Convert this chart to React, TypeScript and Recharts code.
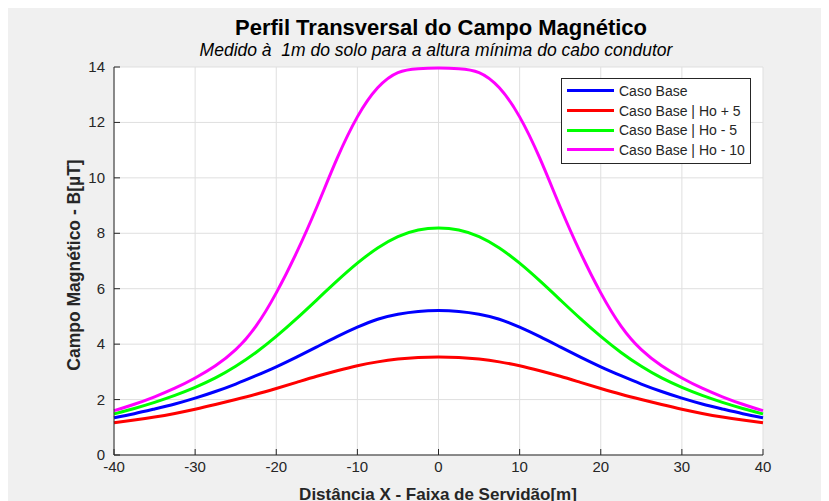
import React from 'react';
import { CartesianGrid, Legend, Line, LineChart, XAxis, YAxis } from 'recharts';

const distances = [
  -40, -37.5, -35, -32.5, -30, -27.5, -25, -22.5, -20, -17.5, -15, -12.5, -10, -7.5, -5, -2.5,
  0, 2.5, 5, 7.5, 10, 12.5, 15, 17.5, 20, 22.5, 25, 27.5, 30, 32.5, 35, 37.5, 40,
];

const casoBase = [
  1.34, 1.49, 1.66, 1.84, 2.05, 2.29, 2.56, 2.86, 3.18, 3.53, 3.9, 4.27, 4.61, 4.9, 5.08, 5.18,
  5.21, 5.18, 5.08, 4.9, 4.61, 4.27, 3.9, 3.53, 3.18, 2.86, 2.56, 2.29, 2.05, 1.84, 1.66, 1.49, 1.34,
];

const hoMais5 = [
  1.16, 1.26, 1.37, 1.5, 1.65, 1.82, 2.0, 2.19, 2.4, 2.62, 2.84, 3.04, 3.22, 3.36, 3.46, 3.52,
  3.54, 3.52, 3.46, 3.36, 3.22, 3.04, 2.84, 2.62, 2.4, 2.19, 2.0, 1.82, 1.65, 1.5, 1.37, 1.26, 1.16,
];

const hoMenos5 = [
  1.48, 1.68, 1.9, 2.15, 2.44, 2.78, 3.2, 3.7, 4.28, 4.92, 5.6, 6.28, 6.92, 7.47, 7.88, 8.12,
  8.19, 8.12, 7.88, 7.47, 6.92, 6.28, 5.6, 4.92, 4.28, 3.7, 3.2, 2.78, 2.44, 2.15, 1.9, 1.68, 1.48,
];

const hoMenos10 = [
  1.6, 1.83, 2.1, 2.41, 2.78, 3.22, 3.8, 4.65, 5.85, 7.3, 8.95, 10.7, 12.2, 13.25, 13.8, 13.94,
  13.96, 13.94, 13.8, 13.25, 12.2, 10.7, 8.95, 7.3, 5.85, 4.65, 3.8, 3.22, 2.78, 2.41, 2.1, 1.83, 1.6,
];

const seriesNames = ['Caso Base', 'Caso Base | Ho + 5', 'Caso Base | Ho - 5', 'Caso Base | Ho - 10'];

const xTicks = [-40, -30, -20, -10, 0, 10, 20, 30, 40];
const yTicks = [0, 2, 4, 6, 8, 10, 12, 14];

const data = distances.map((x, i) => ({
  x,
  base: casoBase[i],
  mais5: hoMais5[i],
  menos5: hoMenos5[i],
  menos10: hoMenos10[i],
}));

const FONT = 'Arial, "Liberation Sans", Helvetica, sans-serif';
const AXIS = '#262626';

// ticks point inwards, MATLAB style
const XTick = ({ x, y, payload }: any) => (
  <g>
    <line x1={x} x2={x} y1={y} y2={y - 6} stroke={AXIS} strokeWidth={1} />
    <text x={x} y={y + 17} textAnchor="middle" fill={AXIS} fontSize={15} fontFamily={FONT}>
      {payload.value}
    </text>
  </g>
);

const YTick = ({ x, y, payload }: any) => (
  <g>
    <line x1={x + 9} x2={x + 15} y1={y} y2={y} stroke={AXIS} strokeWidth={1} />
    <text x={x} y={y + 5} textAnchor="end" fill={AXIS} fontSize={15} fontFamily={FONT}>
      {payload.value}
    </text>
  </g>
);

const LegendBox = ({ payload }: any) => (
  <div
    style={{
      background: '#fff',
      border: `1px solid ${AXIS}`,
      width: 188,
      height: 80,
      padding: '2px 0',
      boxSizing: 'content-box',
      fontFamily: FONT,
      fontSize: 14,
      color: AXIS,
    }}
  >
    {payload.map((p: any) => (
      <div key={p.value} style={{ display: 'flex', alignItems: 'center', height: 19.7 }}>
        <span style={{ display: 'inline-block', marginLeft: 5, width: 47, height: 3, background: p.color }} />
        <span style={{ marginLeft: 5, whiteSpace: 'nowrap' }}>{p.value}</span>
      </div>
    ))}
  </div>
);

export default function App() {
  return (
    <div style={{ position: 'relative', width: 821, height: 493, background: '#f0f0f0' }}>
      <style>{'body{overflow:hidden}'}</style>
      <LineChart width={821} height={493} data={data} margin={{ top: 59, right: 66, bottom: 16, left: 66 }}>
        <CartesianGrid fill="#fff" stroke="#dfdfdf" strokeWidth={1} />
        <XAxis
          dataKey="x"
          type="number"
          domain={[-40, 40]}
          ticks={xTicks}
          height={30}
          tickSize={0}
          tickMargin={0}
          tickLine={false}
          stroke={AXIS}
          tick={<XTick />}
          interval={0}
        />
        <YAxis
          type="number"
          domain={[0, 14]}
          ticks={yTicks}
          width={40}
          tickSize={0}
          tickMargin={9}
          tickLine={false}
          stroke={AXIS}
          tick={<YTick />}
          interval={0}
        />
        <Legend
          layout="horizontal"
          verticalAlign="middle"
          align="center"
          itemSorter={(item: any) => seriesNames.indexOf(item.value)}
          wrapperStyle={{ left: 553, top: 70, width: 190 }}
          content={LegendBox}
        />
        <Line type="natural" dataKey="base" name={seriesNames[0]} stroke="#0000ff" strokeWidth={3} dot={false} isAnimationActive={false} />
        <Line type="natural" dataKey="mais5" name={seriesNames[1]} stroke="#ff0000" strokeWidth={3} dot={false} isAnimationActive={false} />
        <Line type="natural" dataKey="menos5" name={seriesNames[2]} stroke="#00ff00" strokeWidth={3} dot={false} isAnimationActive={false} />
        <Line type="natural" dataKey="menos10" name={seriesNames[3]} stroke="#ff00ff" strokeWidth={3} dot={false} isAnimationActive={false} />
      </LineChart>
      <svg width={821} height={493} style={{ position: 'absolute', left: 0, top: 0, pointerEvents: 'none' }}>
        <text x={433} y={27} textAnchor="middle" fontFamily={FONT} fontWeight="bold" fontSize={22} fill="#000">
          Perfil Transversal do Campo Magnético
        </text>
        <text x={428} y={48} textAnchor="middle" fontFamily={FONT} fontStyle="italic" fontSize={17.5} fill="#000" xmlSpace="preserve">
          Medido à  1m do solo para a altura mínima do cabo condutor
        </text>
        <text transform="translate(72,257) rotate(-90)" textAnchor="middle" fontFamily={FONT} fontWeight="bold" fontSize={17.5} fill={AXIS}>
          Campo Magnético - B[µT]
        </text>
        <text x={430} y={492} textAnchor="middle" fontFamily={FONT} fontWeight="bold" fontSize={17} fill={AXIS}>
          Distância X - Faixa de Servidão[m]
        </text>
      </svg>
    </div>
  );
}
